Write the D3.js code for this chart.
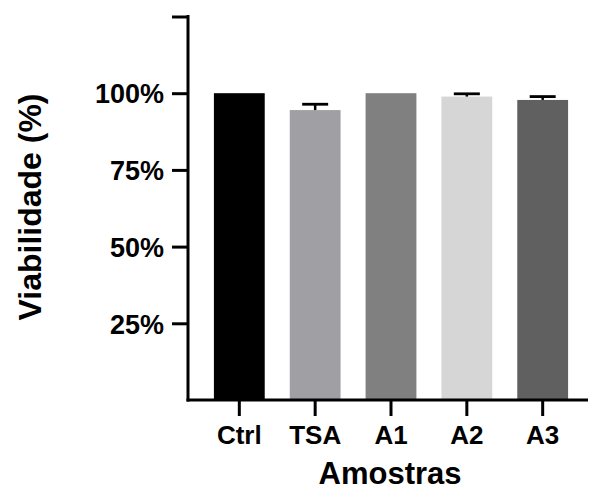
<!DOCTYPE html>
<meta charset="utf-8">
<script src="https://d3js.org/d3.v7.min.js"></script>
<style>
  body { margin: 0; background: #fff; overflow: hidden; }
  svg { display: block; }
  text { font-family: "Liberation Sans", Arial, sans-serif; font-weight: bold; fill: #000; }
</style>
<div id="chart"></div>
<script>
  // data
  var groups = ["Ctrl", "TSA", "A1", "A2", "A3"];
  var means  = [100, 94.5, 100, 98.9, 97.8];
  var sds    = [0, 1.9, 0, 0.9, 1.1];
  var colors = ["#000000", "#a0a0a4", "#808080", "#d6d6d6", "#606060"];
  var yTicks = [25, 50, 75, 100, 125];
  var yTickLabels = ["25%", "50%", "75%", "100%", ""];

  var W = 589, H = 491;
  var axisX = 188, axisRight = 588, axisBottom = 400, axisTop = 16.5;

  var svg = d3.select("#chart").append("svg")
    .attr("width", W).attr("height", H);

  var x = d3.scaleBand()
    .domain(groups)
    .range([201.4, 580.6])
    .paddingInner(0.33)
    .paddingOuter(0.165);

  var y = d3.scaleLinear()
    .domain([0, 125])
    .range([axisBottom, axisTop]);

  var data = groups.map(function(g, i){
    return {g: g, m: means[i], sd: sds[i], c: colors[i]};
  });

  // bars
  svg.append("g").selectAll("rect")
    .data(data).enter().append("rect")
      .attr("x", function(d){ return x(d.g); })
      .attr("y", function(d){ return y(d.m); })
      .attr("width", x.bandwidth())
      .attr("height", function(d){ return y(0) - y(d.m); })
      .style("fill", function(d){ return d.c; });

  // error bars (upper only)
  var err = svg.append("g").selectAll("g")
    .data(data.filter(function(d){ return d.sd > 0; })).enter().append("g");
  err.append("line")
    .attr("x1", function(d){ return x(d.g) + x.bandwidth()/2; })
    .attr("x2", function(d){ return x(d.g) + x.bandwidth()/2; })
    .attr("y1", function(d){ return y(d.m); })
    .attr("y2", function(d){ return y(d.m + d.sd); })
    .attr("stroke", "#000").attr("stroke-width", 2.5);
  err.append("line")
    .attr("x1", function(d){ return x(d.g) + x.bandwidth()/2 - 13; })
    .attr("x2", function(d){ return x(d.g) + x.bandwidth()/2 + 13; })
    .attr("y1", function(d){ return y(d.m + d.sd); })
    .attr("y2", function(d){ return y(d.m + d.sd); })
    .attr("stroke", "#000").attr("stroke-width", 2.8);

  // y axis
  var yAxis = svg.append("g")
    .attr("transform", "translate(" + axisX + ",0)")
    .call(d3.axisLeft(y).tickValues(yTicks)
      .tickFormat(function(d, i){ return yTickLabels[i]; })
      .tickSize(16).tickPadding(8));
  yAxis.select(".domain").remove();
  yAxis.selectAll(".tick line").attr("stroke", "#000").attr("stroke-width", 3);
  yAxis.selectAll(".tick text").style("font-size", "27px").attr("dy", "0.36em");
  svg.append("line")
    .attr("x1", axisX).attr("x2", axisX)
    .attr("y1", axisTop - 1.5).attr("y2", axisBottom + 1.5)
    .attr("stroke", "#000").attr("stroke-width", 3);

  // x axis
  var xAxis = svg.append("g")
    .attr("transform", "translate(0," + axisBottom + ")")
    .call(d3.axisBottom(x).tickSize(16).tickPadding(10));
  xAxis.select(".domain").remove();
  xAxis.selectAll(".tick line").attr("stroke", "#000").attr("stroke-width", 3);
  xAxis.selectAll(".tick text").style("font-size", "26px");
  svg.append("line")
    .attr("x1", axisX - 1.5).attr("x2", axisRight)
    .attr("y1", axisBottom).attr("y2", axisBottom)
    .attr("stroke", "#000").attr("stroke-width", 3);

  // titles
  svg.append("text")
    .attr("x", 390).attr("y", 484)
    .attr("text-anchor", "middle")
    .style("font-size", "31px")
    .text("Amostras");

  svg.append("text")
    .attr("transform", "translate(41,207) rotate(-90)")
    .attr("text-anchor", "middle")
    .style("font-size", "32px")
    .text("Viabilidade (%)");
</script>
